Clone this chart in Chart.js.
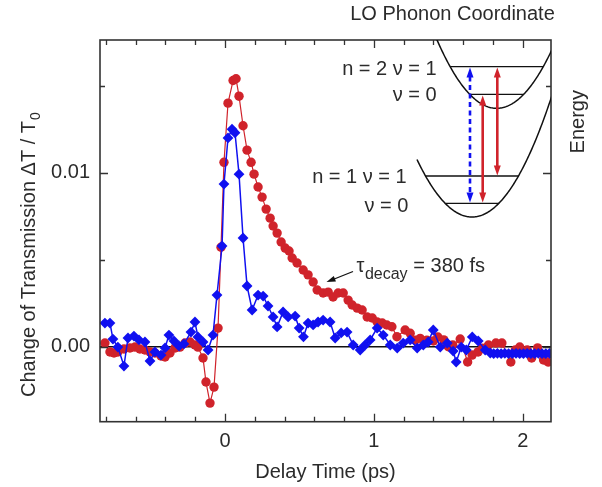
<!DOCTYPE html>
<html><head><meta charset="utf-8">
<script src="https://cdn.jsdelivr.net/npm/chart.js@4.4.1/dist/chart.umd.min.js"></script>
<style>html,body{margin:0;padding:0;background:#fff;}canvas{display:block;}</style>
</head><body>
<canvas id="chart" width="602" height="487"></canvas>
<script>
// ---- data (delay in ps, signal as dT/T0) ----
const redDelay = [
  -0.807,-0.773,-0.746,-0.720,-0.679,-0.639,-0.605,-0.572,-0.538,-0.504,
  -0.471,-0.430,-0.403,-0.370,-0.336,-0.303,-0.269,-0.235,-0.202,-0.182,
  -0.148,-0.128,-0.101,-0.074,-0.047,-0.027,-0.007,0.020,0.054,0.074,
  0.094,0.121,0.148,0.175,0.195,0.222,0.249,0.276,0.303,0.323,
  0.350,0.377,0.404,0.430,0.451,0.484,0.525,0.558,0.592,0.619,
  0.659,0.693,0.726,0.760,0.794,0.827,0.854,0.888,0.921,0.955,
  0.989,1.022,1.056,1.087,1.121,1.155,1.210,1.244,1.278,1.311,
  1.356,1.400,1.430,1.470,1.500,1.530,1.580,1.630,1.660,1.700,
  1.730,1.770,1.820,1.860,1.920,1.950,1.980,2.030,2.060,2.100,
  2.140,2.170
];
const redSignal = [
  0.00021,-0.00030,-0.00036,-0.00030,-0.00013,-0.00007,-0.00002,-0.00013,-0.00019,-0.00030,
  -0.00036,-0.00053,-0.00059,-0.00036,-0.00007,-0.00002,0.00021,0.00027,0.00010,-0.00002,
  -0.00065,-0.00203,-0.00324,-0.00232,0.00107,0.00572,0.01060,0.01400,0.01530,0.01540,
  0.01440,0.01270,0.01130,0.01060,0.00992,0.00918,0.00860,0.00791,0.00739,0.00694,
  0.00653,0.00602,0.00567,0.00550,0.00510,0.00481,0.00441,0.00413,0.00372,0.00326,
  0.00309,0.00314,0.00286,0.00309,0.00309,0.00268,0.00240,0.00222,0.00211,0.00171,
  0.00165,0.00142,0.00136,0.00125,0.00115,0.00057,0.00096,0.00077,0.00038,0.00048,
  0.00038,0.00033,0.00056,0.00039,0.00000,0.00010,0.00044,-0.00088,-0.00048,-0.00030,
  -0.00008,0.00010,0.00021,0.00021,-0.00088,-0.00019,-0.00002,-0.00019,-0.00065,-0.00007,
  -0.00076,-0.00088
];
const blueDelay = [
  -0.807,-0.773,-0.753,-0.720,-0.679,-0.652,-0.612,-0.578,-0.538,-0.504,
  -0.471,-0.430,-0.403,-0.377,-0.343,-0.309,-0.276,-0.229,-0.202,-0.182,
  -0.148,-0.114,-0.081,-0.054,-0.020,-0.007,0.020,0.047,0.067,0.094,
  0.121,0.148,0.182,0.222,0.256,0.289,0.323,0.350,0.390,0.424,
  0.471,0.498,0.527,0.558,0.592,0.625,0.659,0.706,0.740,0.780,
  0.820,0.861,0.908,0.941,0.975,1.022,1.063,1.110,1.157,1.197,
  1.244,1.291,1.332,1.365,1.399,1.446,1.493,1.533,1.553,1.587,
  1.621,1.661,1.701,1.748,1.782,1.805,1.830,1.855,1.880,1.905,
  1.930,1.955,1.980,2.005,2.030,2.055,2.080,2.105,2.130,2.155,
  2.180
];
const blueSignal = [
  0.00136,0.00136,0.00044,-0.00002,-0.00111,0.00050,0.00061,0.00039,0.00027,-0.00082,
  -0.00030,-0.00048,-0.00007,0.00067,0.00033,0.00004,0.00016,0.00084,0.00142,0.00056,
  0.00027,-0.00019,0.00067,0.00297,0.00579,0.00935,0.01200,0.01250,0.01230,0.00992,
  0.00625,0.00349,0.00211,0.00297,0.00291,0.00234,0.00171,0.00114,0.00200,0.00171,
  0.00176,0.00107,0.00057,0.00136,0.00125,0.00142,0.00153,0.00142,0.00050,0.00079,
  0.00084,0.00010,-0.00019,0.00010,0.00039,0.00107,0.00067,0.00010,-0.00008,0.00021,
  0.00039,-0.00008,0.00010,0.00027,0.00096,-0.00002,0.00021,-0.00025,-0.00088,-0.00002,
  -0.00019,0.00056,0.00033,-0.00019,-0.00036,-0.00040,-0.00038,-0.00040,-0.00038,-0.00040,
  -0.00040,-0.00038,-0.00040,-0.00040,-0.00038,-0.00040,-0.00040,-0.00038,-0.00040,-0.00040,
  -0.00038
];
const xTickValues = [0, 1, 2];
const yTickValues = [0, 0.01];
const xRange = [-0.84, 2.19];
const yRange = [-0.00431, 0.01763];

// ---- styling ----
const FONT = '"Liberation Sans", Arial, Helvetica, sans-serif';
const INK = '#2b2b2b';
const AXIS = '#333333';
const RED = '#d0232b';
const BLUE = '#1010f0';

function toPoints(xs, ys) { return xs.map((x, i) => ({ x: x, y: ys[i] })); }

function arrowHead(ctx, tx, ty, dx, dy, len, hw) {
  const bx = tx - dx * len, by = ty - dy * len;
  ctx.beginPath();
  ctx.moveTo(tx, ty);
  ctx.lineTo(bx - dy * hw, by + dx * hw);
  ctx.lineTo(bx + dy * hw, by - dx * hw);
  ctx.closePath();
  ctx.fill();
}

function vDoubleArrow(ctx, x, yTop, yBot, color, dashed) {
  const len = 10, hw = 3.5;
  ctx.save();
  ctx.strokeStyle = color; ctx.fillStyle = color; ctx.lineWidth = 2.6;
  if (dashed) ctx.setLineDash([5, 3.5]);
  ctx.beginPath(); ctx.moveTo(x, yTop + len - 1); ctx.lineTo(x, yBot - len + 1); ctx.stroke();
  ctx.setLineDash([]);
  arrowHead(ctx, x, yTop, 0, -1, len, hw);
  arrowHead(ctx, x, yBot, 0, 1, len, hw);
  ctx.restore();
}

const framePlugin = {
  id: 'framePlugin',
  beforeDatasetsDraw(chart) {
    const { ctx, chartArea: a, scales: { y } } = chart;
    const y0 = y.getPixelForValue(0);
    ctx.save();
    ctx.strokeStyle = '#111'; ctx.lineWidth = 1.6;
    ctx.beginPath(); ctx.moveTo(a.left, y0); ctx.lineTo(a.right, y0); ctx.stroke();
    ctx.restore();
  },
  afterDraw(chart) {
    const { ctx, chartArea: a, scales: { x, y } } = chart;
    ctx.save();
    // box
    ctx.strokeStyle = AXIS; ctx.lineWidth = 1.6;
    ctx.strokeRect(a.left, a.top, a.right - a.left, a.bottom - a.top);
    // inward ticks (x)
    ctx.lineWidth = 1.3;
    for (let k = -4; k <= 10; k++) {
      const v = k * 0.2;
      if (v < x.min || v > x.max) continue;
      const px = Math.round(x.getPixelForValue(v)) + 0.5;
      const L = (k % 5 === 0) ? 8 : 5;
      ctx.beginPath();
      ctx.moveTo(px, a.bottom); ctx.lineTo(px, a.bottom - L);
      ctx.moveTo(px, a.top); ctx.lineTo(px, a.top + L);
      ctx.stroke();
    }
    // inward ticks (y)
    for (let k = -1; k <= 3; k++) {
      const v = k * 0.005;
      if (v < y.min || v > y.max) continue;
      const py = Math.round(y.getPixelForValue(v)) + 0.5;
      const L = (k % 2 === 0) ? 8 : 5;
      ctx.beginPath();
      ctx.moveTo(a.left, py); ctx.lineTo(a.left + L, py);
      ctx.moveTo(a.right, py); ctx.lineTo(a.right - L, py);
      ctx.stroke();
    }
    ctx.restore();

    // axis titles
    ctx.save();
    ctx.fillStyle = INK;
    ctx.font = '20px ' + FONT;
    ctx.textAlign = 'center'; ctx.textBaseline = 'alphabetic';
    ctx.fillText('Delay Time (ps)', (a.left + a.right) / 2, 478);
    ctx.translate(35, 397);
    ctx.rotate(-Math.PI / 2);
    ctx.textAlign = 'left';
    const main = 'Change of Transmission \u0394T / T';
    ctx.fillText(main, 0, 0);
    const w = ctx.measureText(main).width;
    ctx.font = '14px ' + FONT;
    ctx.fillText('0', w + 1, 5);
    ctx.restore();

    // tau annotation
    ctx.save();
    ctx.fillStyle = INK; ctx.strokeStyle = '#111'; ctx.lineWidth = 1.3;
    ctx.beginPath(); ctx.moveTo(353, 271.5); ctx.lineTo(333, 279.5); ctx.stroke();
    ctx.fillStyle = '#111';
    const ddx = 326.5 - 353, ddy = 282 - 271.5, dl = Math.hypot(ddx, ddy);
    arrowHead(ctx, 326.5, 282, ddx / dl, ddy / dl, 9, 3);
    ctx.fillStyle = INK;
    ctx.textAlign = 'left'; ctx.textBaseline = 'alphabetic';
    ctx.font = '20px ' + FONT;
    let tx = 356.5;
    ctx.fillText('\u03C4', tx, 271.7);
    tx += ctx.measureText('\u03C4').width + 0.5;
    ctx.font = '16px ' + FONT;
    ctx.fillText('decay', tx, 278.5);
    ctx.font = '20px ' + FONT;
    ctx.fillText('= 380 fs', 413.3, 271.7);
    ctx.restore();

    // inset: LO phonon coordinate diagram
    ctx.save();
    ctx.beginPath(); ctx.rect(a.left, a.top, a.right - a.left, a.bottom - a.top); ctx.clip();
    ctx.strokeStyle = '#111'; ctx.lineWidth = 1.5;
    const para = (vx, vy, k, x0, x1) => {
      ctx.beginPath();
      for (let px = x0; px <= x1; px += 1) {
        const py = vy - k * (px - vx) * (px - vx);
        if (px === x0) ctx.moveTo(px, py); else ctx.lineTo(px, py);
      }
      ctx.stroke();
    };
    const up = { vx: 496.7, vy: 108.3, k: 0.0192 };
    const lo = { vx: 472, vy: 217, k: 0.019 };
    para(up.vx, up.vy, up.k, 434, 556);
    para(lo.vx, lo.vy, lo.k, 417, 556);
    ctx.lineWidth = 1.3;
    const level = (p, yy) => {
      const d = Math.sqrt((p.vy - yy) / p.k);
      ctx.beginPath(); ctx.moveTo(p.vx - d, yy); ctx.lineTo(p.vx + d, yy); ctx.stroke();
    };
    level(up, 66.7); level(up, 94.3); level(lo, 176); level(lo, 203.3);
    ctx.restore();

    vDoubleArrow(ctx, 470, 67.5, 202.5, BLUE, true);
    vDoubleArrow(ctx, 482.7, 95.5, 202.5, RED, false);
    vDoubleArrow(ctx, 497.3, 67.5, 175.5, RED, false);

    ctx.save();
    ctx.fillStyle = INK;
    ctx.font = '20px ' + FONT;
    ctx.textBaseline = 'alphabetic';
    ctx.textAlign = 'right';
    ctx.fillText('n = 2 \u03BD = 1', 436.7, 75);
    ctx.fillText('\u03BD = 0', 436.7, 101);
    ctx.fillText('n = 1 \u03BD = 1', 406.7, 183.3);
    ctx.fillText('\u03BD = 0', 408.3, 211.7);
    ctx.textAlign = 'center';
    ctx.fillText('LO Phonon Coordinate', 452.5, 20);
    ctx.translate(578, 121.7);
    ctx.rotate(-Math.PI / 2);
    ctx.textBaseline = 'middle';
    ctx.fillText('Energy', 0, 0);
    ctx.restore();
  }
};

new Chart(document.getElementById('chart'), {
  type: 'scatter',
  data: {
    datasets: [
      {
        label: 'n = 1',
        data: toPoints(blueDelay, blueSignal),
        showLine: true,
        borderColor: BLUE, borderWidth: 1.5,
        backgroundColor: BLUE,
        pointStyle: 'rectRot', pointRadius: 5.4, pointBorderWidth: 0,
        pointHoverRadius: 5.4,
        order: 0
      },
      {
        label: 'n = 2',
        data: toPoints(redDelay, redSignal),
        showLine: true,
        borderColor: RED, borderWidth: 1.2,
        backgroundColor: RED,
        pointStyle: 'circle', pointRadius: 4.7, pointBorderWidth: 0,
        pointHoverRadius: 4.7,
        order: 1
      }
    ]
  },
  options: {
    responsive: false,
    devicePixelRatio: 1,
    animation: false,
    events: [],
    layout: { padding: { left: 0, right: 51, top: 40, bottom: 0 } },
    plugins: { legend: { display: false }, tooltip: { enabled: false } },
    scales: {
      x: {
        type: 'linear', min: xRange[0], max: xRange[1],
        grid: { display: false, drawTicks: false },
        border: { display: false },
        afterBuildTicks: (s) => { s.ticks = xTickValues.map(v => ({ value: v })); },
        afterFit: (s) => { s.height = 65.3; },
        ticks: {
          autoSkip: false, maxRotation: 0, padding: 8, color: INK,
          font: { family: FONT, size: 20 },
          callback: (v) => String(v)
        }
      },
      y: {
        type: 'linear', min: yRange[0], max: yRange[1],
        grid: { display: false, drawTicks: false },
        border: { display: false },
        afterBuildTicks: (s) => { s.ticks = yTickValues.map(v => ({ value: v })); },
        afterFit: (s) => { s.width = 100; },
        ticks: {
          autoSkip: false, padding: 10, color: INK,
          font: { family: FONT, size: 20 },
          callback: (v) => Number(v).toFixed(2)
        }
      }
    }
  },
  plugins: [framePlugin]
});
</script>
</body></html>
